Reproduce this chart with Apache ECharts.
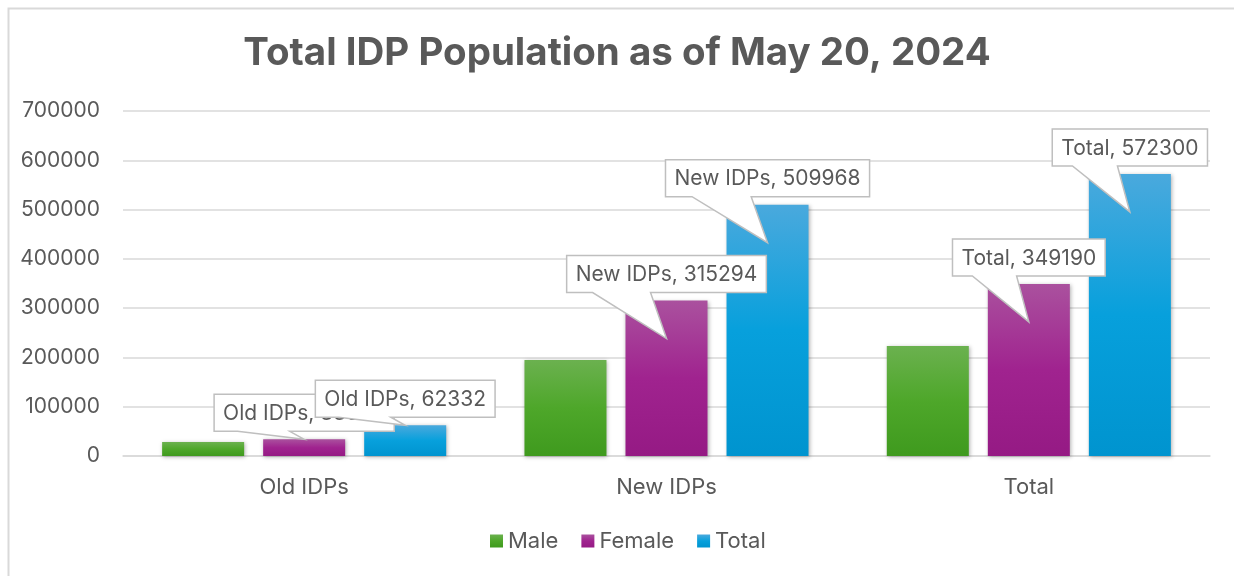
<!DOCTYPE html>
<html>
<head>
<meta charset="utf-8">
<title>Total IDP Population</title>
<script src="https://cdn.jsdelivr.net/npm/echarts@6/dist/echarts.min.js"></script>
<style>
  html, body { margin: 0; padding: 0; background: #fff; }
  #chart { width: 1234px; height: 576px; }
</style>
</head>
<body>
<div id="chart"></div>
<script>
// data
const categories = ["Old IDPs", "New IDPs", "Total"];
const maleValues = [28436, 194674, 223110];
const femaleValues = [33896, 315294, 349190];
const totalValues = [62332, 509968, 572300];
const seriesNames = ["Male", "Female", "Total"];
const yTicks = [0, 100000, 200000, 300000, 400000, 500000, 600000, 700000];

// callouts: [category index, value, series index]
const callouts = [
  [0, femaleValues[0], 1],
  [0, totalValues[0], 2],
  [1, femaleValues[1], 1],
  [1, totalValues[1], 2],
  [2, femaleValues[2], 1],
  [2, totalValues[2], 2]
];

const textColor = "#595959";
const gridColor = "#d9d9d9";
const fontName = "Inter";
const labelFont = "21px Inter, sans-serif";
const barGap = 0.232;
const catGap = 0.216;

const measureCtx = document.createElement("canvas").getContext("2d");
measureCtx.font = labelFont;

function grad(top, mid, bottom) {
  return new echarts.graphic.LinearGradient(0, 0, 0, 1, [
    { offset: 0, color: top },
    { offset: 0.5, color: mid },
    { offset: 1, color: bottom }
  ]);
}

const barColors = [
  grad("#6bb14f", "#4ea72a", "#3f9a1e"),
  grad("#aa519e", "#a0238f", "#951a84"),
  grad("#4aa9dd", "#07a0dc", "#0094cf")
];

const barShadow = {
  shadowBlur: 4,
  shadowColor: "rgba(0,0,0,0.3)",
  shadowOffsetX: 1,
  shadowOffsetY: 1
};

function barSeries(name, data, i) {
  return {
    name: name,
    type: "bar",
    data: data,
    barGap: (barGap * 100) + "%",
    barCategoryGap: (catGap * 100) + "%",
    itemStyle: Object.assign({ color: barColors[i] }, barShadow)
  };
}

// speech-bubble label pointing into the bar
function renderCallout(params, api) {
  const cat = api.value(0);
  const val = api.value(1);
  const sIdx = api.value(2);
  const top = api.coord([cat, val]);
  const base = api.coord([cat, 0]);
  const catW = api.size([1, 0])[0];
  const groupW = catW * (1 - catGap);
  const barW = groupW / (3 + 2 * barGap);
  const cx = top[0] - groupW / 2 + barW / 2 + sIdx * barW * (1 + barGap);
  const text = categories[cat] + ", " + val;
  const w = measureCtx.measureText(text).width + 18;
  const h = 37;
  const x0 = cx - w / 2, x1 = cx + w / 2;
  const y1 = top[1] - 8, y0 = y1 - h;
  const barH = base[1] - top[1];
  const tipY = top[1] + (barH > 80 ? 38 : 0);
  const pts = [
    [x0, y0], [x1, y0], [x1, y1],
    [x0 + 0.42 * w, y1], [cx, tipY], [x0 + 0.13 * w, y1],
    [x0, y1]
  ];
  return {
    type: "group",
    children: [
      {
        type: "polygon",
        shape: { points: pts },
        style: { fill: "#fff", stroke: "#bfbfbf", lineWidth: 1.5 }
      },
      {
        type: "text",
        style: {
          text: text,
          x: cx,
          y: y0 + h / 2 + 1,
          align: "center",
          verticalAlign: "middle",
          font: labelFont,
          fill: textColor
        }
      }
    ]
  };
}

const chart = echarts.init(document.getElementById("chart"));

const option = {
  animation: false,
  backgroundColor: "#fff",
  graphic: [
    {
      type: "rect",
      left: 6, top: 6,
      shape: { width: 1400, height: 700 },
      style: { fill: "none", stroke: gridColor, lineWidth: 2 },
      silent: true
    }
  ],
  title: {
    text: "Total IDP Population as of May 20, 2024",
    left: "center",
    top: 29,
    textStyle: {
      fontFamily: fontName,
      fontWeight: "bold",
      fontSize: 38.5,
      color: textColor
    }
  },
  legend: {
    data: seriesNames,
    bottom: 19,
    left: 485,
    itemWidth: 13,
    itemHeight: 13,
    itemGap: 23,
    icon: "rect",
    textStyle: { fontFamily: fontName, fontSize: 22, color: textColor }
  },
  grid: { left: 123, right: 24, top: 111, bottom: 120 },
  xAxis: {
    type: "category",
    data: categories,
    axisLine: { lineStyle: { color: gridColor, width: 1.5 } },
    axisTick: { show: false },
    axisLabel: { margin: 20, fontFamily: fontName, fontSize: 22, color: textColor }
  },
  yAxis: {
    type: "value",
    min: yTicks[0],
    max: yTicks[yTicks.length - 1],
    interval: yTicks[1] - yTicks[0],
    axisLine: { show: false },
    axisTick: { show: false },
    splitLine: { lineStyle: { color: gridColor, width: 1.5 } },
    axisLabel: {
      margin: 23,
      fontFamily: fontName,
      fontSize: 21,
      color: textColor,
      formatter: function (v) { return String(v); }
    }
  },
  series: [
    barSeries("Male", maleValues, 0),
    barSeries("Female", femaleValues, 1),
    barSeries("Total", totalValues, 2),
    {
      name: "callouts",
      type: "custom",
      renderItem: renderCallout,
      data: callouts,
      encode: { x: 0, y: 1 },
      z: 10,
      silent: true
    }
  ]
};

chart.setOption(option);
</script>
</body>
</html>
